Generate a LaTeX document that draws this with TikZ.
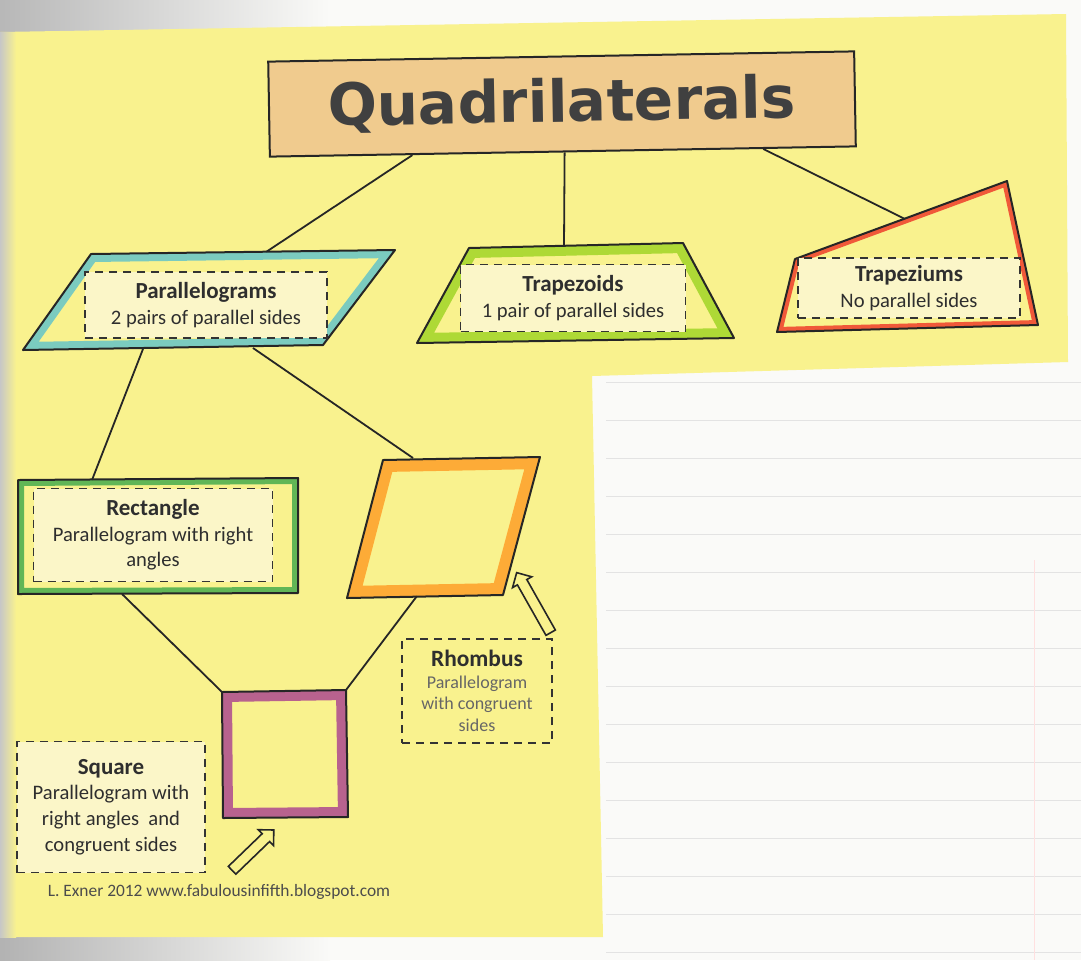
\documentclass[tikz,border=0pt]{standalone}
\usepackage{fontspec}
\setmainfont{Carlito}
\newfontfamily\titlefont{DejaVu Sans}
\usetikzlibrary{shapes.arrows,calc}

\definecolor{paper}{HTML}{F9F28E}
\definecolor{sheet}{HTML}{FAFAF8}
\definecolor{tag}{HTML}{FBF6C8}
\definecolor{ink}{HTML}{2E2E2E}
\definecolor{titlefill}{HTML}{F0CB8E}
\definecolor{tealpen}{HTML}{5CC2CC}
\definecolor{limepen}{HTML}{9CD320}
\definecolor{redpen}{HTML}{EE3324}
\definecolor{greenpen}{HTML}{3CA848}
\definecolor{orangepen}{HTML}{FF9A22}
\definecolor{purplepen}{HTML}{A83F8E}

\newcommand\hd[1]{{\fontsize{11.5}{13}\selectfont\bfseries #1}}

\begin{document}
\begin{tikzpicture}[x=0.5pt, y=-0.5pt,
  link/.style={line width=0.9pt, black!85},
  outline/.style={line width=1pt, black!85, line join=round},
  lblbox/.style={draw=black!80, dash pattern=on 4pt off 3pt, line width=0.9pt, fill=tag,
    align=center, inner sep=0pt, text=ink, font=\fontsize{10.3}{12.8}\selectfont},
  hollow arrow/.style={single arrow, draw=black!85, fill=paper, line width=0.8pt,
    inner sep=2.3pt, single arrow head extend=2.8pt},
  ruling/.style={black!11, line width=0.4pt}]

% paper and notebook page
\useasboundingbox (0,0) rectangle (1081,960);
\fill[sheet] (0,0) rectangle (1081,960);
\shade[left color=black!28, right color=sheet] (0,0) rectangle (330,40);
\shade[left color=black!30, right color=sheet] (0,930) rectangle (330,960);
\fill[paper] (0,32) -- (1066,14) -- (1068,362) -- (592,376) -- (603,937) -- (0,937) -- cycle;
\shade[left color=black!22, right color=paper] (0,32) rectangle (16,937);
\foreach \y in {382,420,...,952}
  \draw[ruling] (606,\y) -- (1081,\y);
\draw[red!12, line width=0.4pt] (1034,560) -- (1034,960);

% title
\node[draw=black!85, line width=1pt, fill=titlefill, minimum width=293pt, minimum height=47.5pt,
  rotate=1, inner sep=0pt, text=black!75,
  font=\titlefont\bfseries\fontsize{29}{30}\selectfont] (title) at (562,104) {Quadrilaterals};

% corners of the shapes
\coordinate (pg1) at (91,254);  \coordinate (pg2) at (395,250);
\coordinate (pg3) at (323,345); \coordinate (pg4) at (23,350);
\coordinate (tz1) at (469,248); \coordinate (tz2) at (683,243);
\coordinate (tz3) at (734,338); \coordinate (tz4) at (417,343);
\coordinate (tm1) at (795,259); \coordinate (tm2) at (1007,181);
\coordinate (tm3) at (1038,325); \coordinate (tm4) at (777,332);
\coordinate (re1) at (18,480);  \coordinate (re2) at (298,478);
\coordinate (re3) at (298,593); \coordinate (re4) at (18,594);
\coordinate (rh1) at (383,460); \coordinate (rh2) at (540,457);
\coordinate (rh3) at (503,595); \coordinate (rh4) at (347,598);
\coordinate (sq1) at (222,692); \coordinate (sq2) at (346,690);
\coordinate (sq3) at (348,817); \coordinate (sq4) at (223,818);

% where the lines meet the shapes
\coordinate (pg-top) at (266,252);
\coordinate (tz-top) at (564,246);
\coordinate (tm-top) at (905,219);
\coordinate (pg-left) at (143,349);
\coordinate (pg-right) at (253,348);
\coordinate (re-top) at (92,480);
\coordinate (re-bot) at (122,594);
\coordinate (rh-top) at (413,458);
\coordinate (rh-bot) at (417,596);

\draw[link] ($(title.south west)!0.244!(title.south east)$) -- (pg-top);
\draw[link] ($(title.south west)!0.503!(title.south east)$) -- (tz-top);
\draw[link] ($(title.south west)!0.841!(title.south east)$) -- (tm-top);
\draw[link] (pg-left) -- (re-top);
\draw[link] (pg-right) -- (rh-top);
\draw[link] (re-bot) -- (sq1);
\draw[link] (rh-bot) -- (sq2);

\foreach \pen/\band/\a/\b/\c/\d in {
    tealpen/8/pg1/pg2/pg3/pg4,
    limepen/10/tz1/tz2/tz3/tz4,
    redpen/5/tm1/tm2/tm3/tm4,
    greenpen/6/re1/re2/re3/re4,
    orangepen/12/rh1/rh2/rh3/rh4,
    purplepen/10/sq1/sq2/sq3/sq4%
} {
    \begin{scope}
        \clip (\a) -- (\b) -- (\c) -- (\d) -- cycle;
        \draw[\pen, opacity=0.8, line width=\band pt] (\a) -- (\b) -- (\c) -- (\d) -- cycle;
    \end{scope}
    \draw[outline] (\a) -- (\b) -- (\c) -- (\d) -- cycle;
}

% labels
\node[lblbox, minimum width=121pt, minimum height=33pt] (pg-lbl) at (206,305)
  {\hd{Parallelograms}\\2 pairs of parallel sides};
\node[lblbox, minimum width=112.5pt, minimum height=33.5pt] (tz-lbl) at (573,298)
  {\hd{Trapezoids}\\1 pair of parallel sides};
\node[lblbox, minimum width=111pt, minimum height=30pt] (tm-lbl) at (909,288)
  {\hd{Trapeziums}\\No parallel sides};
\node[lblbox, minimum width=119.5pt, minimum height=46.5pt] (re-lbl) at (153,535)
  {\hd{Rectangle}\\Parallelogram with right\\angles};
\node[lblbox, fill=none, minimum width=75pt, minimum height=52pt, text=black!60,
  font=\fontsize{9}{10.8}\selectfont] (rh-lbl) at (477,691)
  {{\color{ink}\fontsize{11.7}{13}\selectfont\bfseries Rhombus}\\Parallelogram\\with congruent\\sides};
\node[lblbox, minimum width=94pt, minimum height=65.5pt] (sq-lbl) at (111,807)
  {\hd{Square}\\Parallelogram with\\right angles~ and\\congruent sides};

% pointers
\node[hollow arrow, minimum height=34.5pt, rotate=119.5] (rh-arrow) at (535,605) {};
\node[hollow arrow, minimum height=29pt, rotate=44] (sq-arrow) at (251,852) {};

\node[text=black!70, font=\fontsize{8.7}{10}\selectfont] (credit) at (219,892)
  {L. Exner 2012 www.fabulousinfifth.blogspot.com};

\end{tikzpicture}
\end{document}
